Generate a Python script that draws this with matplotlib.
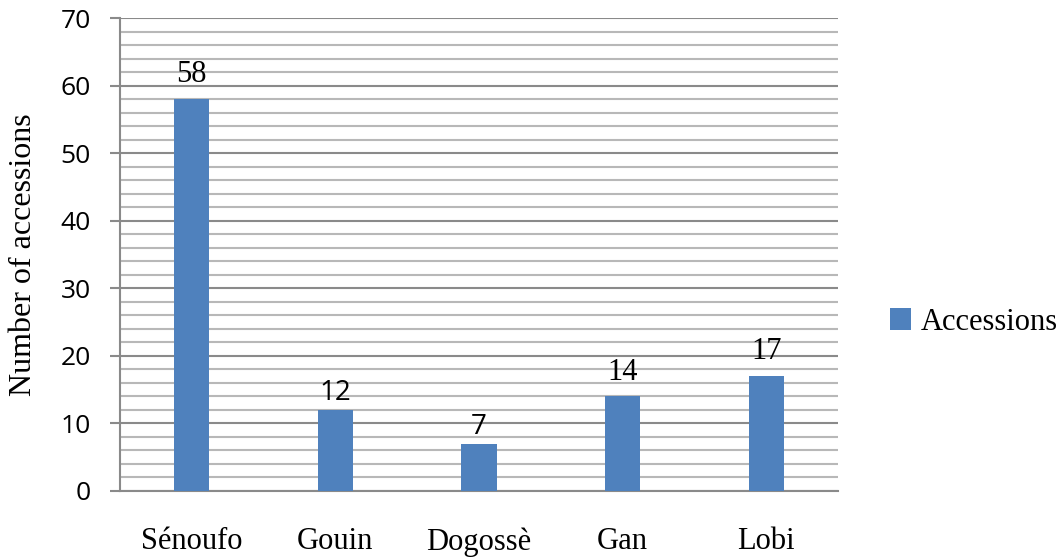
import numpy as np
import matplotlib.pyplot as plt
from matplotlib.patches import Patch

categories = ["Sénoufo", "Gouin", "Dogossè", "Gan", "Lobi"]
accessions = [58, 12, 7, 14, 17]
label_texts = ["58", "12", "7", "14", "17"]
sans_labels = {"12", "7"}

bar_color = "#4f81bd"
serif = "Liberation Serif"
sans = "Open Sans"

fig = plt.figure(figsize=(10.62, 5.6), dpi=100)
ax = fig.add_axes([120 / 1062, 1 - 491 / 560, 718 / 1062, 473 / 560])

x = np.arange(len(categories))
ax.bar(x, accessions, width=0.245, color=bar_color, zorder=3)

# gridlines: minor every 2, major every 10
ax.set_ylim(0, 70)
ax.set_xlim(-0.5, len(categories) - 0.5)
ax.set_yticks(np.arange(0, 71, 10))
ax.set_yticks(np.arange(0, 71, 2), minor=True)
ax.grid(True, which="minor", axis="y", color="#b8b8b8", linewidth=1.5, zorder=1)
ax.grid(True, which="major", axis="y", color="#8a8a8a", linewidth=1.5, zorder=2)

for s in ["top", "right"]:
    ax.spines[s].set_visible(False)
for s in ["left", "bottom"]:
    ax.spines[s].set_color("#8a8a8a")
    ax.spines[s].set_linewidth(1.5)

ax.tick_params(axis="y", which="major", length=7, width=1.5, color="#8a8a8a",
               labelsize=19, pad=14)
ax.tick_params(axis="y", which="minor", length=0)
ax.tick_params(axis="x", length=0, pad=26)
for t in ax.get_yticklabels():
    t.set_fontfamily(sans)

ax.set_xticks(x)
ax.set_xticklabels(categories, fontfamily=serif, fontsize=22)

ax.set_ylabel("Number of accessions", fontfamily=serif, fontsize=23, labelpad=16)

for xi, v, lab in zip(x, accessions, label_texts):
    if lab in sans_labels:
        ax.text(xi, v + 1.4, lab, ha="center", va="baseline", fontfamily=sans,
                fontsize=20, zorder=4)
    else:
        ax.text(xi, v + 2.5, lab, ha="center", va="baseline", fontfamily=serif,
                fontsize=22, zorder=4)

handles = [Patch(facecolor=bar_color, label="Accessions")]
ax.legend(handles=handles, loc="center left", bbox_to_anchor=(1.072, 0.357),
          frameon=False, borderpad=0, borderaxespad=0, handlelength=0.7,
          handleheight=0.7, handletextpad=0.3,
          prop={"family": serif, "size": 22})

fig.savefig("out.png", dpi=100)
